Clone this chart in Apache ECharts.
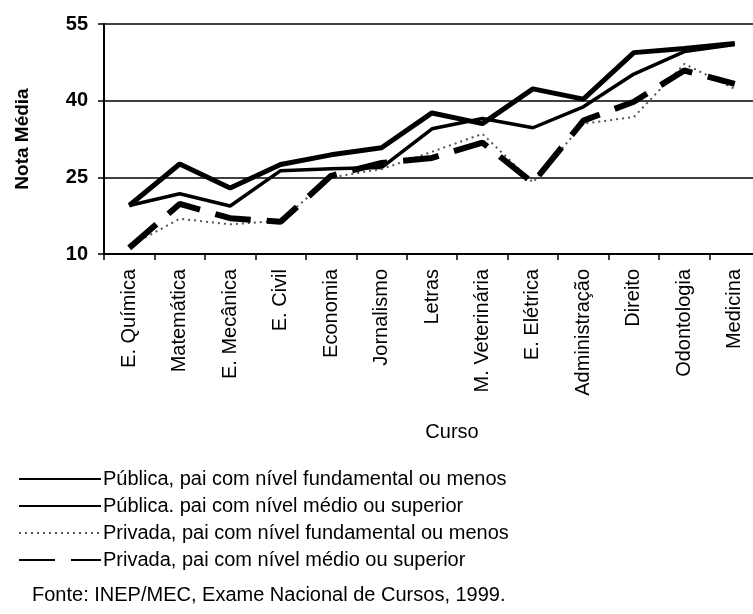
<!DOCTYPE html>
<html>
<head>
<meta charset="utf-8">
<script src="https://cdn.jsdelivr.net/npm/echarts@6/dist/echarts.min.js"></script>
<style>
  html, body { margin: 0; padding: 0; background: #fff; }
  #chart { width: 753px; height: 614px; }
</style>
</head>
<body>
<div id="chart"></div>
<script>
const cursos = ['E. Química', 'Matemática', 'E. Mecânica', 'E. Civil', 'Economia', 'Jornalismo',
  'Letras', 'M. Veterinária', 'E. Elétrica', 'Administração', 'Direito', 'Odontologia', 'Medicina']
const publicaFund = [19.5, 21.8, 19.4, 26.3, 26.7, 26.9, 34.5, 36.5, 34.7, 38.8, 45.2, 49.6, 51.0]
const publicaMedio = [19.5, 27.6, 22.9, 27.5, 29.4, 30.8, 37.6, 35.5, 42.3, 40.3, 49.4, 50.2, 51.2]
const privadaFund = [11.5, 16.9, 15.8, 16.5, 25.0, 26.6, 30.0, 33.5, 24.0, 35.5, 36.8, 47.2, 42.3]
const privadaMedio = [11.2, 19.8, 17.0, 16.3, 25.3, 27.8, 28.8, 31.8, 23.9, 36.1, 39.8, 45.9, 43.3]
const yTicks = [10, 25, 40, 55]

const font = "'Liberation Sans', Arial, sans-serif"
const chart = echarts.init(document.getElementById('chart'))

chart.setOption({
  animation: false,
  textStyle: { fontFamily: font, color: '#000' },
  title: {
    text: 'Fonte: INEP/MEC, Exame Nacional de Cursos, 1999.',
    left: 32,
    top: 585,
    padding: 0,
    textStyle: { fontFamily: font, fontSize: 20, fontWeight: 'normal', color: '#000' }
  },
  legend: {
    orient: 'vertical',
    left: 18,
    top: 469,
    padding: 0,
    itemWidth: 82,
    itemHeight: 14,
    itemGap: 7,
    // hide the circle drawn in the middle of line icons
    itemStyle: { color: 'transparent', borderWidth: 0, opacity: 0 },
    textStyle: { fontFamily: font, fontSize: 20, color: '#000', padding: [0, 0, 0, -3] }
  },
  grid: {
    left: 104,
    top: 24,
    right: -7,
    bottom: 360,
    outerBoundsMode: 'none'
  },
  xAxis: {
    type: 'category',
    data: cursos,
    name: 'Curso',
    nameLocation: 'middle',
    nameGap: 168,
    nameTextStyle: { fontFamily: font, fontSize: 20, color: '#000', padding: [0, 0, 0, 40] },
    axisLine: { lineStyle: { color: '#000', width: 2 } },
    axisTick: { show: true, length: 6, lineStyle: { color: '#000', width: 1.5 } },
    axisLabel: { rotate: 90, margin: 15, fontFamily: font, fontSize: 20, color: '#000' }
  },
  yAxis: {
    type: 'value',
    min: yTicks[0],
    max: yTicks[yTicks.length - 1],
    interval: yTicks[1] - yTicks[0],
    name: 'Nota Média',
    nameLocation: 'middle',
    nameRotate: 90,
    nameGap: 72,
    nameTextStyle: { fontFamily: font, fontSize: 19, fontWeight: 'bold', color: '#000' },
    axisLine: { show: true, lineStyle: { color: '#000', width: 2 } },
    axisTick: { show: true, length: 6, lineStyle: { color: '#000', width: 1.5 } },
    axisLabel: { margin: 16, fontFamily: font, fontSize: 20, fontWeight: 'bold', color: '#000' },
    splitLine: { lineStyle: { color: '#000', width: 1.5 } }
  },
  series: [
    {
      name: 'Pública, pai com nível fundamental ou menos',
      type: 'line',
      data: publicaFund,
      symbol: 'none',
      lineStyle: { color: '#000', width: 3.5 },
      itemStyle: { color: '#000' }
    },
    {
      name: 'Pública. pai com nível médio ou superior',
      type: 'line',
      data: publicaMedio,
      symbol: 'none',
      lineStyle: { color: '#000', width: 5 },
      itemStyle: { color: '#000' }
    },
    {
      name: 'Privada, pai com nível fundamental ou menos',
      type: 'line',
      data: privadaFund,
      symbol: 'none',
      lineStyle: { color: '#555', width: 2, type: [2, 4] },
      itemStyle: { color: '#555' }
    },
    {
      name: 'Privada, pai com nível médio ou superior',
      type: 'line',
      data: privadaMedio,
      symbol: 'none',
      lineStyle: { color: '#000', width: 6, type: [36, 16] },
      itemStyle: { color: '#000' }
    }
  ]
})
</script>
</body>
</html>
